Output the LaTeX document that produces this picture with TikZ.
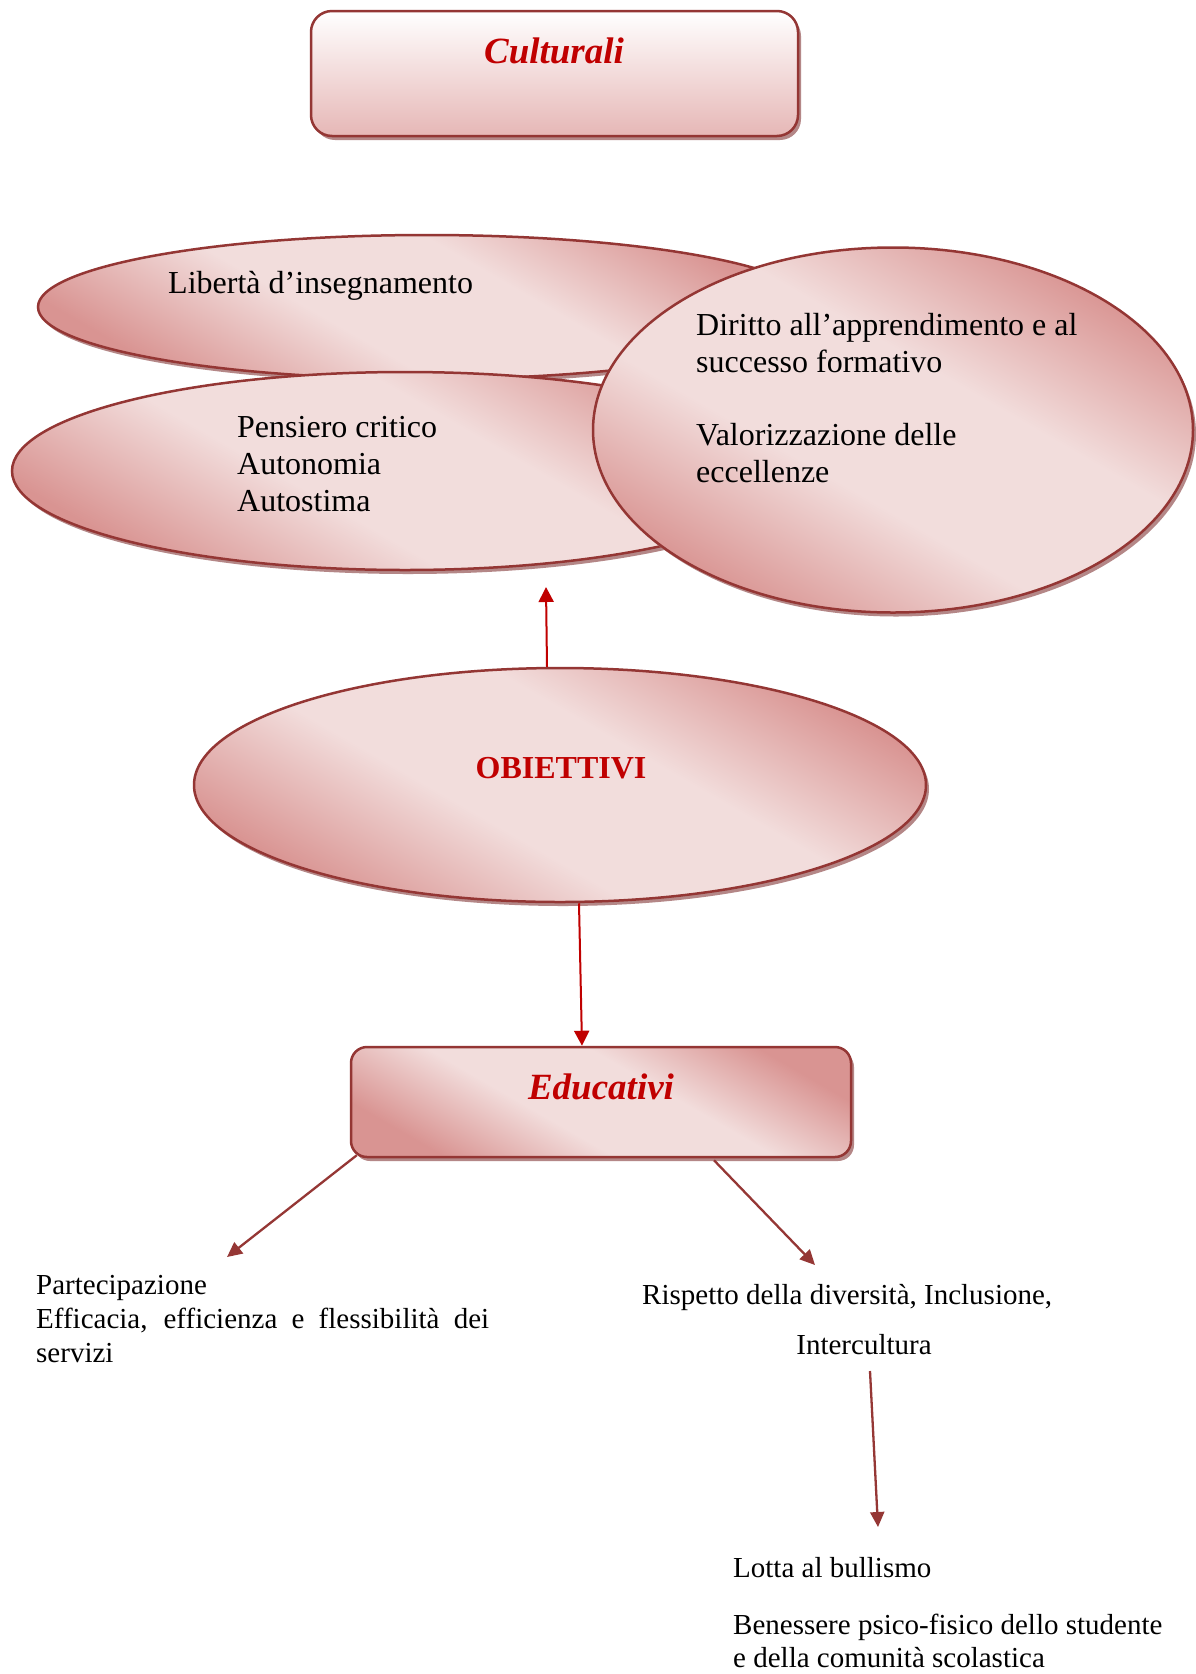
\documentclass[tikz,border=0pt]{standalone}
\usepackage{fontspec}
\setmainfont{Liberation Serif}
\usetikzlibrary{shapes.geometric,arrows.meta,shadows}
\definecolor{dk}{RGB}{217,148,146}
\definecolor{lt}{RGB}{242,221,220}
\definecolor{bord}{RGB}{148,54,52}
\definecolor{rd}{RGB}{192,0,0}
\definecolor{arr}{RGB}{149,55,53}
\definecolor{cbot}{RGB}{230,183,182}
\definecolor{shad}{RGB}{180,135,135}
\pgfdeclareverticalshading{diagsh}{100bp}{color(0bp)=(dk); color(25bp)=(dk); color(42bp)=(lt); color(58bp)=(lt); color(75bp)=(dk); color(100bp)=(dk)}
\begin{document}
\begin{tikzpicture}[x=1pt,y=-1pt,
  shad/.style={drop shadow={shadow xshift=3pt,shadow yshift=-4pt,fill=shad,opacity=1}},
  blob/.style={ellipse,draw=bord,line width=2.5pt,shading=diagsh,shading angle=-30,inner sep=0pt,shad},
  boxc/.style={rectangle,rounded corners=21pt,draw=bord,line width=2.5pt,inner sep=0pt,shad},
  txt/.style={anchor=base west,inner sep=0pt,align=left,font=\fontsize{32}{37}\selectfont},
  stxt/.style={anchor=base west,inner sep=0pt,align=left,font=\fontsize{29}{34}\selectfont},
  ttl/.style={anchor=base,inner sep=0pt,text=rd,font=\fontsize{37}{40}\selectfont\bfseries\itshape},
  redarr/.style={draw=rd,line width=2pt,-{Triangle[length=15pt,width=15pt]},fill=rd},
  darr/.style={draw=arr,line width=2.3pt,-{Triangle[length=15pt,width=14pt]},fill=arr}]
\useasboundingbox (0,0) rectangle (1196,1674);
\fill[white] (0,0) rectangle (1196,1674);

% Culturali box
\node[boxc,top color=white,bottom color=cbot,minimum width=487pt,minimum height=125pt] (cult) at (554.5,73.5) {};
\node[ttl] (culttxt) at (554,63) {Culturali};

% ellipses
\node[blob,minimum width=778pt,minimum height=144pt] (lib) at (427,307) {};
\node[blob,minimum width=786pt,minimum height=198pt] (pens) at (405,471) {};
\node[blob,minimum width=600pt,minimum height=365pt] (dir) at (893,430) {};

% multi-line texts: base anchor = baseline of last line
\node[txt] (libtxt) at (168,293) {Libertà d’insegnamento};
\node[txt] (penstxt) at (237,511) {Pensiero critico\\Autonomia\\Autostima};
\node[txt] (dirtxt) at (696,482) {Diritto all’apprendimento e al\\successo formativo\\[36pt]Valorizzazione delle\\eccellenze};

% OBIETTIVI
\node[blob,minimum width=732pt,minimum height=234pt] (obj) at (560,785) {};
\node[anchor=base,inner sep=0pt,text=rd,font=\fontsize{32}{36}\selectfont\bfseries] (objtxt) at (561,778) {OBIETTIVI};

% Educativi box
\node[boxc,rounded corners=16pt,shading=diagsh,shading angle=-30,minimum width=500pt,minimum height=110pt] (edu) at (601,1102) {};
\node[ttl] (edutxt) at (601,1099) {Educativi};

% bottom texts
\node[stxt] (part) at (36,1362) {Partecipazione\\\makebox[453pt][s]{Efficacia, efficienza e flessibilità dei}\\servizi};
\node[stxt] (risp) at (642,1304) {Rispetto della diversità, Inclusione,};
\node[anchor=base,inner sep=0pt,font=\fontsize{29}{34}\selectfont] (inter) at (864,1354) {Intercultura};
\node[stxt] (lotta) at (733,1577) {Lotta al bullismo};
\node[stxt,font=\fontsize{29}{33}\selectfont] (bene) at (733,1667) {Benessere psico-fisico dello studente\\e della comunità scolastica};

% arrow end points
\coordinate (uptip) at (546,587);
\coordinate (parttip) at (227,1257);
\coordinate (risptip) at (815,1265);
\coordinate (interstart) at (870,1371);
\coordinate (lottatip) at (878,1527);

% connectors
\draw[redarr] ([xshift=-13pt]obj.north) -- (uptip);
\draw[redarr] ([xshift=19pt]obj.south) -- ([xshift=-19pt]edu.north);
\draw[darr] ([shift={(7pt,3pt)}]edu.south west) -- (parttip);
\draw[darr] ([shift={(113pt,-2pt)}]edu.south) -- (risptip);
\draw[darr] (interstart) -- (lottatip);
\end{tikzpicture}
\end{document}
